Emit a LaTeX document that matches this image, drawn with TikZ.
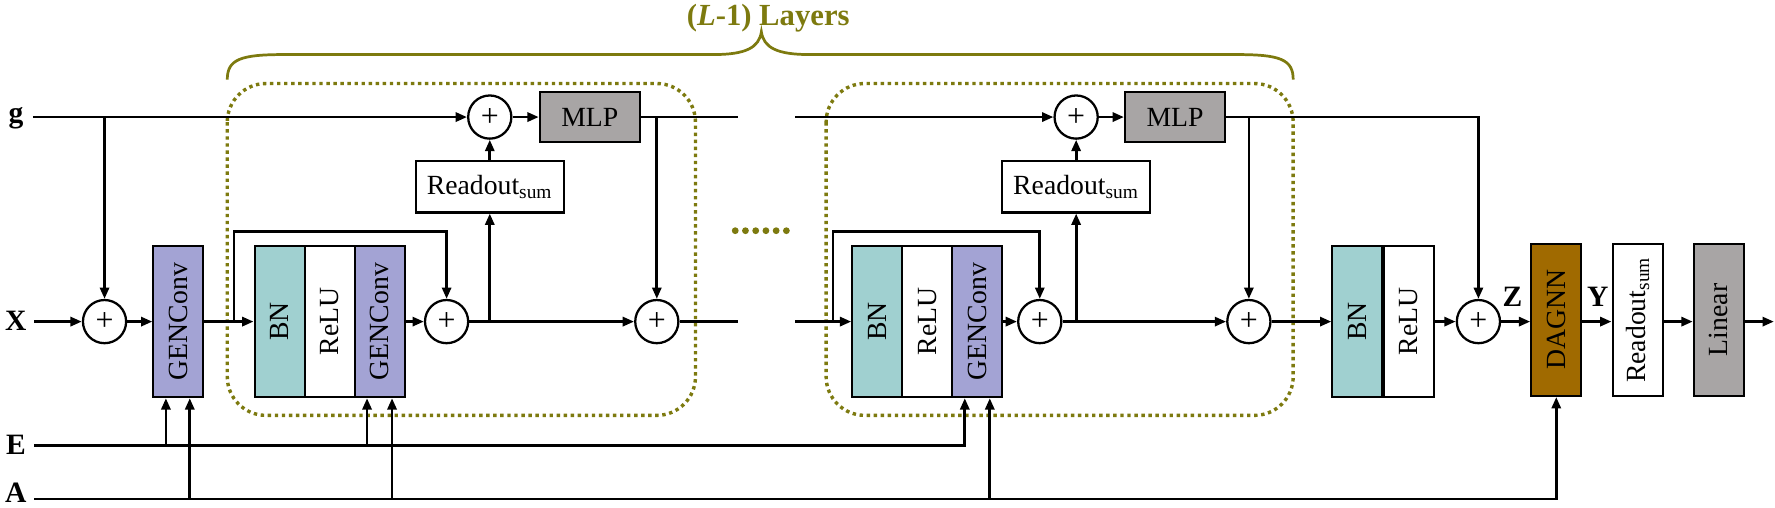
\documentclass[tikz,border=0pt]{standalone}
\usepackage{fontspec}
\setmainfont{Liberation Serif}
\usetikzlibrary{arrows.meta,calc}
\definecolor{olivec}{RGB}{125,122,15}
\definecolor{bnc}{RGB}{160,208,208}
\definecolor{genc}{RGB}{163,163,212}
\definecolor{mlpc}{RGB}{168,165,165}
\definecolor{dagc}{RGB}{160,106,0}
\begin{document}
\begin{tikzpicture}[x=0.5pt,y=-0.5pt,
 font=\fontsize{12.2}{14}\selectfont,
 conn/.style={line width=1.2pt},
 arr/.style={conn,-{Triangle[length=5pt,width=4pt]}},
 blk/.style={draw,line width=0.9pt,inner sep=0pt,minimum width=22pt,minimum height=66.5pt},
 plus/.style={circle,draw,line width=1pt,fill=white,inner sep=0pt,minimum size=19pt,font=\fontsize{14}{14}\selectfont},
 lab/.style={anchor=base,inner sep=1pt,font=\fontsize{13}{14}\selectfont\bfseries},
 robox/.style={draw,line width=0.9pt,fill=white,inner sep=0pt,minimum width=65pt,minimum height=22.5pt},
 mlpb/.style={draw,line width=0.9pt,fill=mlpc,inner sep=0pt,minimum width=44pt,minimum height=22pt},
 lay/.style={olivec,line width=1.5pt,dash pattern=on 1.5pt off 1.6pt,rounded corners=17pt}]
\useasboundingbox (0,0) rectangle (1562,447);

% layer frames
\draw[lay] (200,73.5) rectangle (612,365.5);
\draw[lay] (727,73.5) rectangle (1138,365.5);
\draw[olivec,line width=1.2pt] (200,70) .. controls (200,52) and (212,48) .. (250,48) -- (628,48)
  .. controls (656,48) and (668,42) .. (670,28) .. controls (672,42) and (684,48) .. (712,48)
  -- (1088,48) .. controls (1126,48) and (1138,52) .. (1138,70);
\node[olivec,anchor=base,font=\fontsize{13.5}{15}\selectfont\bfseries] (title) at (676,22) {(\textit{L}-1) Layers};
\foreach \i in {0,...,5} \fill[olivec] (647+9*\i,203) circle (1.5pt);

% labels
\node[lab] (gl) at (14,108) {g};
\node[lab] (Xl) at (14,291) {X};
\node[lab] (El) at (14,400) {E};
\node[lab] (Al) at (14,442) {A};
\coordinate (gs) at (29,103);
\coordinate (Xs) at (30,283);
\coordinate (Es) at (30,392);
\coordinate (As) at (30,439);

% first stage
\node[plus] (p1) at (92,283) {+};
\node[blk,fill=genc] (gc1) at (157,283) {\rotatebox{90}{GENConv}};

% layer 1
\node[blk,fill=bnc] (bn1) at (246,283) {\rotatebox{90}{BN}};
\node[blk,fill=white] (relu1) at (290,283) {\rotatebox{90}{ReLU}};
\node[blk,fill=genc] (gc2) at (334,283) {\rotatebox{90}{GENConv}};
\node[plus] (p2) at (393,283) {+};
\node[plus] (p3) at (578,283) {+};
\node[plus] (pg1) at (431,103) {+};
\node[robox] (ro1) at (431,164.5) {Readout\textsubscript{sum}};
\node[mlpb] (mlp1) at (519,103) {MLP};
\coordinate (s1) at (206,283);
\coordinate (s1t) at (206,203.5);
\coordinate (ge1) at (649,103);
\coordinate (xe1) at (649,283);

% layer L-1
\coordinate (gs2) at (700,103);
\coordinate (xs2) at (700,283);
\node[blk,fill=bnc] (bn2) at (772,283) {\rotatebox{90}{BN}};
\node[blk,fill=white] (relu2) at (816,283) {\rotatebox{90}{ReLU}};
\node[blk,fill=genc] (gc3) at (860,283) {\rotatebox{90}{GENConv}};
\node[plus] (p4) at (915,283) {+};
\node[plus] (p5) at (1099,283) {+};
\node[plus] (pg2) at (947,103) {+};
\node[robox] (ro2) at (947,164.5) {Readout\textsubscript{sum}};
\node[mlpb] (mlp2) at (1034,103) {MLP};
\coordinate (s2) at (733,283);
\coordinate (s2t) at (733,204);

% output stage
\node[blk,fill=bnc] (bn3) at (1194.5,283) {\rotatebox{90}{BN}};
\node[blk,fill=white] (relu3) at (1239.5,283) {\rotatebox{90}{ReLU}};
\node[plus] (p6) at (1301,283) {+};
\node[blk,fill=dagc,minimum height=67pt] (dag) at (1369.5,281.5) {\rotatebox{90}{DAGNN}};
\node[blk,fill=white,minimum height=67pt] (ro3) at (1441,281.5) {\rotatebox{90}{Readout\textsubscript{sum}}};
\node[blk,fill=mlpc,minimum height=67pt] (lin) at (1512.5,281.5) {\rotatebox{90}{Linear}};
\coordinate (xend) at (1561,283);
\node[lab] (Zl) at (1331,270) {Z};
\node[lab] (Yl) at (1406,270) {Y};

% connectors: g row
\draw[arr] (gs) -- (pg1);
\draw[arr] (p1 |- gs) -- (p1);
\draw[arr] (pg1) -- (mlp1);
\draw[conn] (mlp1) -- (ge1);
\draw[arr] (p3 |- mlp1) -- (p3);
\draw[arr] (gs2) -- (pg2);
\draw[arr] (pg2) -- (mlp2);
\draw[arr] (mlp2) -| (p6);
\draw[arr] (p5 |- mlp2) -- (p5);

% X row
\draw[arr] (Xs) -- (p1);
\draw[arr] (p1) -- (gc1);
\draw[arr] (gc1) -- (bn1);
\draw[arr] (s1) -- (s1t) -| (p2);
\draw[arr] (gc2) -- (p2);
\draw[arr] (p2) -- (p3);
\draw[arr] (ro1 |- p2) -- (ro1);
\draw[arr] (ro1) -- (pg1);
\draw[conn] (p3) -- (xe1);
\draw[arr] (xs2) -- (bn2);
\draw[arr] (s2) -- (s2t) -| (p4);
\draw[arr] (gc3) -- (p4);
\draw[arr] (p4) -- (p5);
\draw[arr] (ro2 |- p4) -- (ro2);
\draw[arr] (ro2) -- (pg2);
\draw[arr] (p5) -- (bn3);
\draw[arr] (relu3) -- (p6);
\draw[arr] (p6) -- (p6 -| dag.west);
\draw[arr] (dag.east |- p6) -- (ro3.west |- p6);
\draw[arr] (ro3.east |- p6) -- (lin.west |- p6);
\draw[arr] (lin.east |- xend) -- (xend);

% E and A rows
\coordinate (e1) at ([xshift=-5.5pt]gc1.south);
\coordinate (a1) at ([xshift=5pt]gc1.south);
\coordinate (e2) at ([xshift=-5.5pt]gc2.south);
\coordinate (a2) at ([xshift=5.5pt]gc2.south);
\coordinate (e3) at ([xshift=-5.5pt]gc3.south);
\coordinate (a3) at ([xshift=5.5pt]gc3.south);
\draw[arr] (Es) -| (e3);
\draw[arr] (e1 |- Es) -- (e1);
\draw[arr] (e2 |- Es) -- (e2);
\draw[arr] (As) -| (dag);
\draw[arr] (a1 |- As) -- (a1);
\draw[arr] (a2 |- As) -- (a2);
\draw[arr] (a3 |- As) -- (a3);
\end{tikzpicture}
\end{document}
